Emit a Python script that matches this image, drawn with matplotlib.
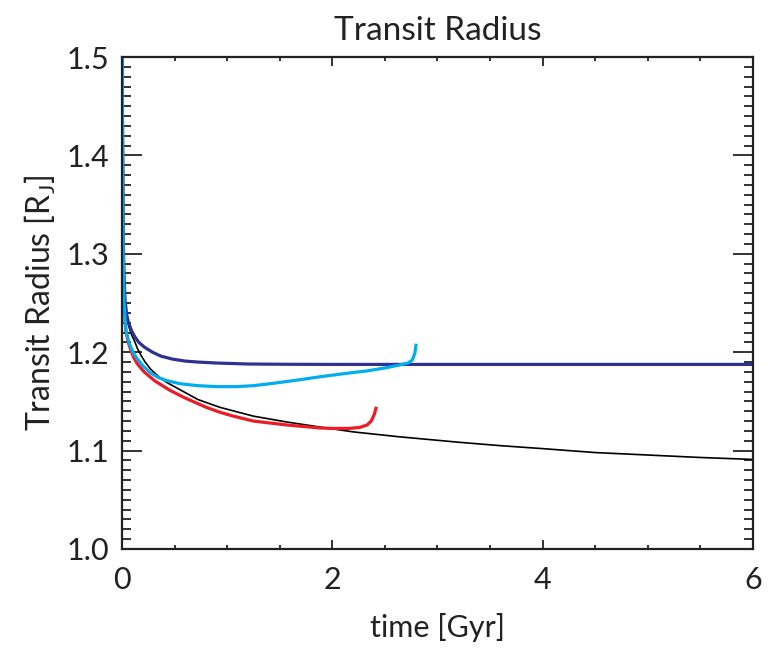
import matplotlib
matplotlib.use('Agg')
import matplotlib.pyplot as plt
from matplotlib.ticker import MultipleLocator, FormatStrFormatter

plt.rcParams['font.family'] = ['Lato', 'DejaVu Sans']

# time [Gyr] and transit radius [R_J]
t_black = [0.001, 0.004, 0.008, 0.013, 0.02, 0.03, 0.045, 0.065, 0.09, 0.12, 0.15, 0.18, 0.22,
           0.27, 0.35, 0.43, 0.55, 0.72, 0.93, 1.25, 1.57, 1.88, 2.2, 2.64, 3.2, 3.6, 4.0,
           4.5, 5.0, 5.5, 6.0]
r_black = [1.56, 1.44, 1.35, 1.30, 1.265, 1.245, 1.234, 1.226, 1.218, 1.211, 1.203, 1.197, 1.190,
           1.183, 1.175, 1.169, 1.162, 1.152, 1.144, 1.135, 1.129, 1.124, 1.119, 1.114, 1.1085, 1.105, 1.102,
           1.098, 1.0955, 1.093, 1.091]

t_navy = [0.001, 0.004, 0.008, 0.013, 0.02, 0.03, 0.045, 0.06, 0.09, 0.12, 0.16, 0.215, 0.29,
          0.37, 0.48, 0.6, 0.72, 0.9, 1.2, 1.6, 2.0, 3.0, 4.0, 5.0, 6.0]
r_navy = [1.56, 1.45, 1.37, 1.31, 1.275, 1.252, 1.238, 1.231, 1.222, 1.216, 1.210, 1.205, 1.200,
          1.196, 1.193, 1.191, 1.190, 1.189, 1.188, 1.1877, 1.1876, 1.1876, 1.1876, 1.1876, 1.1876]

t_cyan = [0.001, 0.004, 0.008, 0.013, 0.02, 0.036, 0.06, 0.084, 0.11, 0.147, 0.2, 0.27, 0.35,
          0.43, 0.55, 0.72, 0.9, 1.09, 1.25, 1.41, 1.69, 1.88, 2.17, 2.33, 2.5, 2.64, 2.72,
          2.76, 2.785, 2.795]
r_cyan = [1.56, 1.44, 1.35, 1.29, 1.25, 1.223, 1.212, 1.205, 1.199, 1.193, 1.186, 1.179, 1.174,
          1.171, 1.168, 1.166, 1.165, 1.165, 1.166, 1.168, 1.172, 1.175, 1.179, 1.181, 1.184, 1.187, 1.189,
          1.192, 1.199, 1.207]

t_red = [0.001, 0.004, 0.008, 0.013, 0.02, 0.036, 0.06, 0.084, 0.11, 0.147, 0.21, 0.31, 0.46,
         0.59, 0.8, 0.93, 1.06, 1.25, 1.57, 1.88, 2.0, 2.15, 2.26, 2.33, 2.37, 2.40, 2.415]
r_red = [1.56, 1.44, 1.35, 1.29, 1.25, 1.222, 1.210, 1.202, 1.195, 1.188, 1.180, 1.171, 1.161,
         1.154, 1.144, 1.139, 1.135, 1.130, 1.126, 1.123, 1.1225, 1.1225, 1.1235, 1.126, 1.130, 1.137, 1.143]

fig = plt.figure(figsize=(7.81, 6.51), dpi=100)
ax = fig.add_axes([0.1562, 0.1567, 0.8079, 0.7557])

ax.plot(t_black, r_black, color='black', lw=1.2)
ax.plot(t_red, r_red, color='#ed1c24', lw=2.3)
ax.plot(t_navy, r_navy, color='#2e3192', lw=2.3)
ax.plot(t_cyan, r_cyan, color='#00aeef', lw=2.3)

ax.set_xlim(0, 6)
ax.set_ylim(1.0, 1.5)
ax.xaxis.set_major_locator(MultipleLocator(2))
ax.xaxis.set_minor_locator(MultipleLocator(0.5))
ax.yaxis.set_major_locator(MultipleLocator(0.1))
ax.yaxis.set_minor_locator(MultipleLocator(0.01))
ax.yaxis.set_major_formatter(FormatStrFormatter('%.1f'))

ax.tick_params(which='both', direction='in', top=True, right=True, width=1.3,
               labelsize=22, colors='#222222')
ax.tick_params(axis='x', which='major', length=6.5, pad=12)
ax.tick_params(axis='x', which='minor', length=3)
ax.tick_params(axis='y', which='major', length=14.5, pad=9)
ax.tick_params(axis='y', which='minor', length=6.5)
for s in ax.spines.values():
    s.set_linewidth(1.6)
    s.set_color('#222222')

fig.canvas.draw()
ylabels = ax.get_yticklabels()
ylabels[0].set_va('bottom')
ylabels[-1].set_va('top')

ax.set_title('Transit Radius', fontsize=24, pad=12, color='#222222')
ax.set_xlabel('time [Gyr]', fontsize=22, labelpad=14, color='#222222')
ax.set_ylabel(r'Transit Radius [R$_\mathregular{J}$]', fontsize=23, labelpad=6, color='#222222')

fig.savefig('out.png', dpi=100)
